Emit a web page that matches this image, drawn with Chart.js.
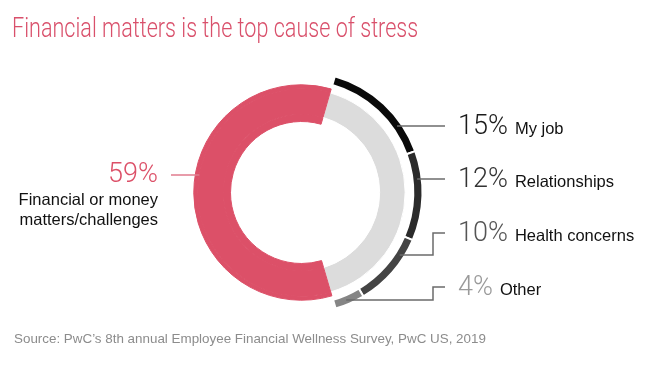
<!DOCTYPE html>
<html>
<head>
<meta charset="utf-8">
<script src="https://cdn.jsdelivr.net/npm/chart.js@4"></script>
<style>
  html, body { margin: 0; padding: 0; background: #fff; }
  #wrap { position: relative; width: 655px; height: 368px; overflow: hidden; }
  #myChart { position: absolute; left: 0; top: 0; }
  .title { position: absolute; left: 12px; top: 12px; font: 300 27px Roboto, sans-serif; color: #d9506b; white-space: nowrap; transform: scaleX(0.8); transform-origin: 0 0; }
  .source { position: absolute; left: 14px; top: 331px; font: 13.4px "Liberation Sans", Arial, sans-serif; color: #8c8c8c; white-space: nowrap; }
</style>
</head>
<body>
<div id="wrap">
  <canvas id="myChart" width="655" height="368"></canvas>
  <div class="title">Financial matters is the top cause of stress</div>
  <div class="source">Source: PwC’s 8th annual Employee Financial Wellness Survey, PwC US, 2019</div>
</div>
<script>
const categories = ["My job", "Relationships", "Health concerns", "Other"]
const causeValues = [15, 12, 10, 4]
const financialLabel = ["Financial or money", "matters/challenges"]
const financialValue = 59
const otherTotal = causeValues.reduce((a, b) => a + b, 0)

const red = "#dc5068"
const lightGrey = "#dcdcdc"
const causeColors = ["#0a0a0a", "#2b2b2b", "#444444", "#858585"]
const percentColors = ["#1a1a1a", "#333333", "#555555", "#9a9a9a"]

// label rows on the right (y of the text centre) and where leader lines leave the ring
const labelY = [127, 180, 234, 288]
const elbowFromY = [null, null, 255, 300]

const ctx = document.getElementById("myChart")

const leaderPlugin = {
  id: "leaders",
  afterDraw(chart) {
    const c = chart.ctx
    const outer = chart.getDatasetMeta(0).data[0]
    const cx = outer.x
    const cy = outer.y
    const rOut = (outer.innerRadius + outer.outerRadius) / 2
    const lineEnd = 445
    const elbowX = 433

    c.save()
    c.lineWidth = 1.5
    c.strokeStyle = "#6b6b6b"
    causeValues.forEach((v, i) => {
      c.beginPath()
      if (elbowFromY[i] === null) {
        const y = labelY[i] - 1
        const x = cx + Math.sqrt(rOut * rOut - (y - cy) * (y - cy))
        c.moveTo(x, y)
        c.lineTo(lineEnd, y)
      } else {
        const y0 = elbowFromY[i]
        const x0 = cx + Math.sqrt(rOut * rOut - (y0 - cy) * (y0 - cy))
        c.moveTo(x0, y0)
        c.lineTo(elbowX, y0)
        c.lineTo(elbowX, labelY[i] - 1)
        c.lineTo(lineEnd, labelY[i] - 1)
      }
      c.stroke()

      c.textBaseline = "middle"
      c.textAlign = "left"
      c.font = "300 27px Roboto, sans-serif"
      c.fillStyle = percentColors[i]
      const pct = v + "%"
      c.fillText(pct, 458, labelY[i])
      const w = c.measureText(pct).width
      c.font = "16.5px 'Liberation Sans', Arial, sans-serif"
      c.fillStyle = "#111"
      c.fillText(categories[i], 458 + w + 7, labelY[i] + 2)
    })

    // left label for the financial slice
    const redArc = chart.getDatasetMeta(3).data[1]
    const ly = 175
    const lx = cx - Math.sqrt(redArc.outerRadius * redArc.outerRadius - (ly - cy) * (ly - cy))
    c.strokeStyle = "#e07b8e"
    c.beginPath()
    c.moveTo(171, ly)
    c.lineTo(lx, ly)
    c.stroke()

    c.textAlign = "right"
    c.font = "300 27px Roboto, sans-serif"
    c.fillStyle = red
    c.fillText(financialValue + "%", 158, ly)
    c.font = "16.5px 'Liberation Sans', Arial, sans-serif"
    c.fillStyle = "#111"
    c.fillText(financialLabel[0], 158, 200)
    c.fillText(financialLabel[1], 158, 220)
    c.restore()
  },
}

new Chart(ctx, {
  type: "doughnut",
  data: {
    labels: [...categories, "Financial or money matters/challenges"],
    datasets: [
      {
        // outer band: causes of the remaining share
        data: [...causeValues, financialValue],
        backgroundColor: [...causeColors, "transparent"],
        borderColor: "#fff",
        borderWidth: [2, 2, 2, 2, 0],
        weight: 9,
      },
      {
        // gap ring
        data: [otherTotal, financialValue],
        backgroundColor: ["transparent", "transparent"],
        borderWidth: 0,
        weight: 4,
      },
      {
        data: [otherTotal, financialValue],
        backgroundColor: ["transparent", red],
        borderColor: ["transparent", red],
        borderWidth: [0, 1],
        weight: 4,
      },
      {
        data: [otherTotal, financialValue],
        backgroundColor: [lightGrey, red],
        borderColor: ["#fff", red],
        borderWidth: [1, 1],
        weight: 25,
      },
      {
        data: [otherTotal, financialValue],
        backgroundColor: ["transparent", red],
        borderColor: ["transparent", red],
        borderWidth: [0, 1],
        weight: 7,
      },
    ],
  },
  options: {
    responsive: false,
    animation: false,
    events: [],
    radius: 121,
    cutout: (71 / 121 * 100) + "%",
    rotation: 16,
    layout: {
      padding: { left: 0, right: 52, top: 17, bottom: 0 },
    },
    plugins: {
      legend: { display: false },
      tooltip: { enabled: false },
    },
  },
  plugins: [leaderPlugin],
})
</script>
</body>
</html>
